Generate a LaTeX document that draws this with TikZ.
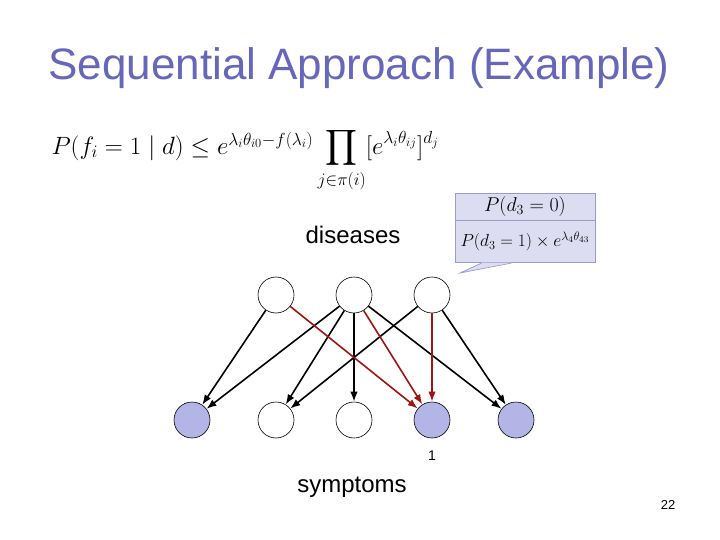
\RequirePackage{fix-cm}
\documentclass[tikz,border=0pt]{standalone}
\usepackage{fontspec}
\usepackage{amsmath}
\setmainfont{Liberation Sans}
\usetikzlibrary{positioning,calc,arrows.meta}
\definecolor{SlideTitle}{HTML}{6666BB}
\definecolor{NodeBlue}{HTML}{B2B5E6}
\definecolor{EdgeRed}{HTML}{A01414}
\definecolor{BoxFill}{HTML}{DDDDF1}
\definecolor{BoxLine}{HTML}{9A9ACC}

\begin{document}
\begin{tikzpicture}[
    x=1pt, y=-1pt,
    var/.style={circle, draw=black, line width=0.6pt, fill=white, minimum size=36pt, inner sep=0pt},
    obs/.style={var, fill=NodeBlue},
    arrow/.style={-{Latex[length=10pt,width=7.5pt]}, line width=1.6pt, draw=black},
    hot/.style={arrow, draw=EdgeRed},
    cell/.style={draw=BoxLine, fill=BoxFill, line width=0.7pt, minimum width=140pt, inner sep=0pt, font=\fontsize{20}{22}\selectfont}
  ]
    \useasboundingbox (0,0) rectangle (720,540);
    \node[text=SlideTitle, font=\fontsize{44}{48}\selectfont] (title) at (359,68) {Sequential Approach (Example)};
    \node[anchor=west, font=\fontsize{25}{30}\selectfont] (bound) at (48,160)
      {$P(f_i = 1 \mid d) \le e^{\lambda_i\theta_{i0} - f(\lambda_i)} \displaystyle\prod_{j\in\pi(i)} [e^{\lambda_i\theta_{ij}}]^{d_j}$};
    \node[font=\fontsize{24}{26}\selectfont] (dlabel) at (353,235) {diseases};
    \node[font=\fontsize{24}{26}\selectfont] (slabel) at (352,487) {symptoms};
    % diseases
    \node[var] (d1) at (276,295) {};
    \node[var] (d2) at (354,295) {};
    \node[var] (d3) at (432,295) {};
    % symptoms
    \node[obs] (f1) at (192,420) {};
    \node[var] (f2) at (276,420) {};
    \node[var] (f3) at (354,420) {};
    \node[obs] (f4) at (432,420) {};
    \node[obs] (f5) at (516,420) {};
    \node[font=\fontsize{14}{16}\selectfont] (one) at (432,456) {1};
    \node[font=\fontsize{13}{15}\selectfont] (page) at (668,505) {22};
    % callout
    \node[cell, minimum height=27pt] (cb0) at (525,206.5) {$P(d_3 = 0)$};
    \node[cell, minimum height=42pt, below=0pt of cb0, font=\fontsize{17.5}{20}\selectfont] (cb1) {$P(d_3 = 1)\times e^{\lambda_4\theta_{43}}$};
    \coordinate (tip) at (460,273);
    \fill[BoxFill] ($(cb1.south west)+(27,-0.4)$) -- (tip) -- ($(cb1.south west)+(57,-0.4)$) -- cycle;
    \draw[BoxLine, line width=0.7pt] ($(cb1.south west)+(27,0)$) -- (tip) -- ($(cb1.south west)+(57,0)$);
    % edges
    \draw[arrow] (d1) -- (f1);
    \draw[arrow] (d2) -- (f1);
    \draw[arrow] (d2) -- (f2);
    \draw[arrow] (d2) -- (f3);
    \draw[arrow] (d2) -- (f5);
    \draw[arrow] (d3) -- (f2);
    \draw[arrow] (d3) -- (f5);
    \draw[hot] (d1) -- (f4);
    \draw[hot] (d2) -- (f4);
    \draw[hot] (d3) -- (f4);
  \end{tikzpicture}
\end{document}
